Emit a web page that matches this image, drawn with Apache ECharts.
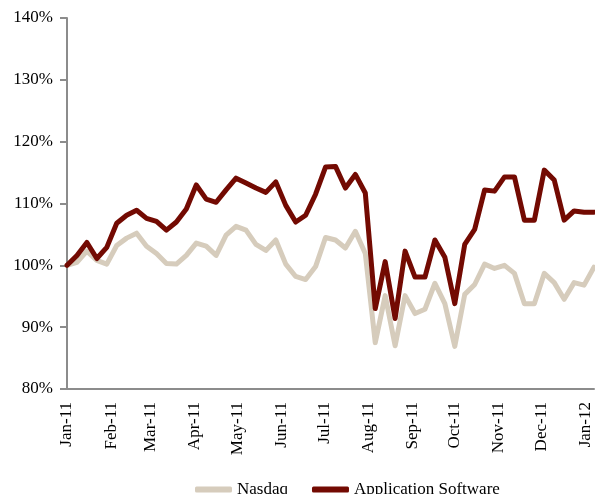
<!DOCTYPE html>
<html>
<head>
<meta charset="utf-8">
<script src="https://cdn.jsdelivr.net/npm/echarts@6/dist/echarts.min.js"></script>
<style>
html,body{margin:0;padding:0;background:#fff;}
#chart{width:595px;height:494px;}
</style>
</head>
<body>
<div id="chart"></div>
<script>
var dates = ['2011-01-01','2011-01-08','2011-01-15','2011-01-22','2011-01-29','2011-02-05','2011-02-12','2011-02-19','2011-02-26',
'2011-03-05','2011-03-12','2011-03-19','2011-03-26','2011-04-02','2011-04-09','2011-04-16','2011-04-23','2011-04-30',
'2011-05-07','2011-05-14','2011-05-21','2011-05-28','2011-06-04','2011-06-11','2011-06-18','2011-06-25','2011-07-02',
'2011-07-09','2011-07-16','2011-07-23','2011-07-30','2011-08-06','2011-08-13','2011-08-20','2011-08-27','2011-09-03',
'2011-09-10','2011-09-17','2011-09-24','2011-10-01','2011-10-08','2011-10-15','2011-10-22','2011-10-29','2011-11-05',
'2011-11-12','2011-11-19','2011-11-26','2011-12-03','2011-12-10','2011-12-17','2011-12-24','2011-12-31','2012-01-07'];
var nasdaq = [100,100.5,102.3,100.8,100.2,103.2,104.4,105.2,103.1,101.9,100.3,100.2,101.6,103.6,103.1,101.6,104.9,106.3,
105.7,103.4,102.4,104.1,100.2,98.2,97.7,99.8,104.5,104.1,102.8,105.5,101.9,87.5,95.1,87.0,95.1,92.2,92.9,97.1,93.8,86.9,
95.3,96.9,100.2,99.5,100.0,98.7,93.8,93.8,98.7,97.2,94.5,97.2,96.8,99.7];
var appSoftware = [100,101.6,103.7,101.1,102.9,106.8,108.1,108.9,107.6,107.1,105.7,107.0,109.1,113.0,110.7,110.2,112.2,114.1,
113.3,112.5,111.8,113.5,109.7,107.0,108.1,111.5,115.9,116.0,112.5,114.7,111.7,93.0,100.6,91.4,102.3,98.1,98.1,104.1,101.3,93.8,
103.4,105.8,112.2,112.0,114.3,114.3,107.3,107.3,115.4,113.8,107.3,108.8,108.6,108.6];
var yTicks = [80,90,100,110,120,130,140];
var monthNames = ['Jan','Feb','Mar','Apr','May','Jun','Jul','Aug','Sep','Oct','Nov','Dec'];

function pairs(vals){ return dates.map(function(d,i){ return [d, vals[i]]; }); }
var font = '"Liberation Serif","Times New Roman",serif';
var chart = echarts.init(document.getElementById('chart'), null, {renderer:'canvas'});
chart.setOption({
  animation:false,
  backgroundColor:'#fff',
  grid:{left:67,right:1,top:18,bottom:105,containLabel:false},
  xAxis:{
    type:'time',
    min:dates[0], max:dates[dates.length-1],
    splitNumber:12,
    minInterval:28*86400000,
    maxInterval:31*86400000,
    axisLine:{show:true,lineStyle:{color:'#8c8c8c',width:2}},
    axisTick:{show:false},
    splitLine:{show:false},
    axisLabel:{
      rotate:90, margin:13, color:'#000', fontFamily:font, fontSize:17,
      formatter:function(v){ var d=new Date(v); return monthNames[d.getMonth()]+'-'+String(d.getFullYear()).slice(2); }
    }
  },
  yAxis:{
    type:'value', min:yTicks[0], max:yTicks[yTicks.length-1], interval:10,
    axisLine:{show:true,lineStyle:{color:'#8c8c8c',width:2}},
    axisTick:{show:true,length:7,lineStyle:{color:'#8c8c8c',width:2}},
    splitLine:{show:false},
    axisLabel:{margin:14,color:'#000',fontFamily:font,fontSize:17,formatter:'{value}%'}
  },
  legend:{
    left:190, top:476, icon:'roundRect', itemWidth:37, itemHeight:6, itemGap:24,
    textStyle:{fontFamily:font,fontSize:17,color:'#000'},
    data:['Nasdaq','Application Software']
  },
  series:[
    {name:'Nasdaq',type:'line',data:pairs(nasdaq),showSymbol:false,symbol:'none',color:'#D6CCBC',
     lineStyle:{color:'#D6CCBC',width:5,join:'round',cap:'round'}},
    {name:'Application Software',type:'line',data:pairs(appSoftware),showSymbol:false,symbol:'none',color:'#730A02',
     lineStyle:{color:'#730A02',width:5,join:'round',cap:'round'}}
  ]
});
</script>
</body>
</html>
